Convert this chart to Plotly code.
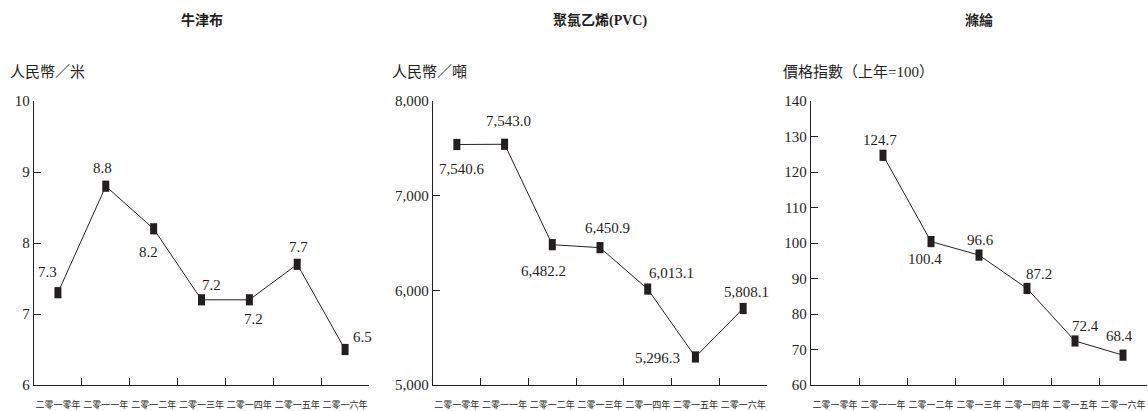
import plotly.graph_objects as go

# ---------------- data ----------------
years = ["二零一零年", "二零一一年", "二零一二年", "二零一三年", "二零一四年", "二零一五年", "二零一六年"]

titles = ["牛津布", "聚氯乙烯(PVC)", "滌綸"]
units = ["人民幣／米", "人民幣／噸", "價格指數（上年=100）"]

oxford = [7.3, 8.8, 8.2, 7.2, 7.2, 7.7, 6.5]
pvc = [7540.6, 7543.0, 6482.2, 6450.9, 6013.1, 5296.3, 5808.1]
polyester = [None, 124.7, 100.4, 96.6, 87.2, 72.4, 68.4]

y_ranges = [[6, 10], [5000, 8000], [60, 140]]
y_dtick = [1, 1000, 10]
y_formats = ["d", ",d", "d"]
label_formats = ["{:.1f}", "{:,.1f}", "{:.1f}"]

# label offsets (pixels: dx, dy up) -- styling only
offsets = [
    [(-10, 21), (-3, 18), (-5, -23), (10, 15), (4, -19), (1, 17), (17, 13)],
    [(5, -25), (4, 23), (-9, -26), (7, 20), (24, 16), (-38, -1), (3, 17)],
    [None, (-3, 15), (-6, -17), (1, 15), (12, 14), (10, 15), (-4, 19)],
]

series = [oxford, pvc, polyester]

# ---------------- layout geometry ----------------
W, H = 1148, 411
x_domains = [(34, 369), (433, 767), (811, 1147)]
y_top, y_bot = 101, 385
unit_x = [8, 390, 781]

serif = "Liberation Serif, Noto Sans CJK TC, serif"
ink = "#231f20"

fig = go.Figure()
annotations = []
layout_axes = {}

for i in range(3):
    xa = "x" if i == 0 else f"x{i+1}"
    ya = "y" if i == 0 else f"y{i+1}"
    fig.add_trace(go.Scatter(
        x=years, y=series[i], xaxis=xa, yaxis=ya,
        mode="lines+markers",
        line=dict(color=ink, width=1),
        marker=dict(symbol="line-ns", size=8, color=ink,
                    line=dict(color=ink, width=7)),
        connectgaps=False, showlegend=False, hoverinfo="skip",
    ))
    for j, v in enumerate(series[i]):
        if v is None:
            continue
        dx, dy = offsets[i][j]
        annotations.append(dict(
            x=years[j], y=v, xref=xa, yref=ya,
            text=label_formats[i].format(v), showarrow=False,
            xshift=dx, yshift=dy,
            font=dict(family=serif, size=15, color=ink),
        ))
    x0, x1 = x_domains[i]
    xkey = "xaxis" if i == 0 else f"xaxis{i+1}"
    ykey = "yaxis" if i == 0 else f"yaxis{i+1}"
    layout_axes[xkey] = dict(
        domain=[x0 / W, x1 / W], anchor=ya, type="category",
        categoryorder="array", categoryarray=years,
        range=[-0.5, 6.5], tickson="boundaries",
        ticks="inside", ticklen=7, tickcolor=ink, tickwidth=1,
        showline=True, linecolor=ink, linewidth=1.3,
        showgrid=False, zeroline=False, automargin=False,
        tickangle=0,
        tickfont=dict(family="Noto Sans CJK TC", size=9, color=ink),
        ticklabelstandoff=11,
    )
    layout_axes[ykey] = dict(
        domain=[(H - y_bot) / H, (H - y_top) / H], anchor=xa,
        range=y_ranges[i], dtick=y_dtick[i], tick0=y_ranges[i][0],
        tickformat=y_formats[i], automargin=False,
        ticks="inside", ticklen=7, tickcolor=ink, tickwidth=1,
        showline=True, linecolor=ink, linewidth=1.3,
        showgrid=False, zeroline=False,
        tickfont=dict(family=serif, size=15, color=ink),
    )
    annotations.append(dict(
        x=0.5, xref=f"{xa} domain", y=(H - 20) / H, yref="paper",
        text=f"<b>{titles[i]}</b>", showarrow=False, yanchor="middle",
        font=dict(family=serif, size=14, color=ink),
    ))
    annotations.append(dict(
        x=unit_x[i] / W, xref="paper", y=(H - 72) / H, yref="paper",
        text=units[i], showarrow=False, xanchor="left", yanchor="middle",
        font=dict(family=serif, size=15, color=ink),
    ))

fig.update_layout(
    width=W, height=H,
    margin=dict(l=0, r=0, t=0, b=0, autoexpand=False),
    paper_bgcolor="white", plot_bgcolor="white",
    annotations=annotations,
    **layout_axes,
)

fig.write_html(
    "out.html",
    config={"displayModeBar": False},
    post_script="document.body.style.margin='0';document.body.style.overflow='hidden';",
)
